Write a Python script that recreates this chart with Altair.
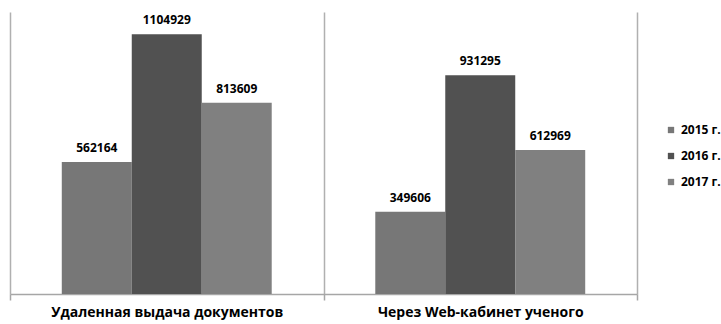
import altair as alt
import pandas as pd

# Document delivery volumes by channel and year
channels = ["Удаленная выдача документов", "Через Web-кабинет ученого"]
years = ["2015 г.", "2016 г.", "2017 г."]
remote_delivery = [562164, 1104929, 813609]
web_cabinet = [349606, 931295, 612969]
colors = ["#777777", "#515151", "#808080"]

rows = []
for ch, vals in zip(channels, [remote_delivery, web_cabinet]):
    for yr, v in zip(years, vals):
        rows.append({"channel": ch, "year": yr, "value": v})
df = pd.DataFrame(rows)

FONT = "Open Sans"

x_enc = alt.X(
    "channel:N",
    sort=channels,
    title=None,
    scale=alt.Scale(paddingInner=0, paddingOuter=0),
    axis=alt.Axis(
        tickBand="extent",
        grid=True,
        gridColor="#b0b0b0",
        gridWidth=1.5,
        domainColor="#a6a6a6",
        domainWidth=1.5,
        tickColor="#a6a6a6",
        tickWidth=1.5,
        tickSize=6,
        labelAngle=0,
        labelFont=FONT,
        labelFontSize=14,
        labelFontWeight="bold",
        labelColor="#000000",
        labelPadding=5,
        labelLimit=0,
    ),
)
xoff_enc = alt.XOffset(
    "year:N", sort=years, scale=alt.Scale(paddingInner=0, paddingOuter=0.74)
)
y_enc = alt.Y(
    "value:Q",
    title=None,
    scale=alt.Scale(domain=[0, 1200000], nice=False),
    axis=None,
)

bars = alt.Chart(df).mark_bar().encode(
    x=x_enc,
    xOffset=xoff_enc,
    y=y_enc,
    color=alt.Color(
        "year:N",
        sort=years,
        scale=alt.Scale(domain=years, range=colors),
        legend=alt.Legend(
            title=None,
            orient="none",
            legendX=655,
            legendY=112,
            padding=0,
            symbolType="square",
            symbolSize=40,
            symbolStrokeWidth=0,
            labelFont=FONT,
            labelFontSize=12,
            labelFontWeight="bold",
            labelColor="#000000",
            rowPadding=14,
            labelOffset=4,
        ),
    ),
)

labels = alt.Chart(df).mark_text(
    font=FONT,
    fontSize=12,
    fontWeight="bold",
    color="#000000",
    baseline="alphabetic",
    dy=-10,
).encode(
    x=alt.X("channel:N", sort=channels),
    xOffset=alt.XOffset("year:N", sort=years),
    y="value:Q",
    text=alt.Text("value:Q", format="d"),
)

chart = (
    alt.layer(bars, labels)
    .properties(
        width=627,
        height=282,
        padding={"left": 10, "top": 12, "right": 84, "bottom": 30},
        autosize=alt.AutoSizeParams(type="none"),
        background="#ffffff",
    )
    .configure_view(stroke=None)
)

chart.save("out.html", embed_options={"renderer": "svg", "actions": False})
